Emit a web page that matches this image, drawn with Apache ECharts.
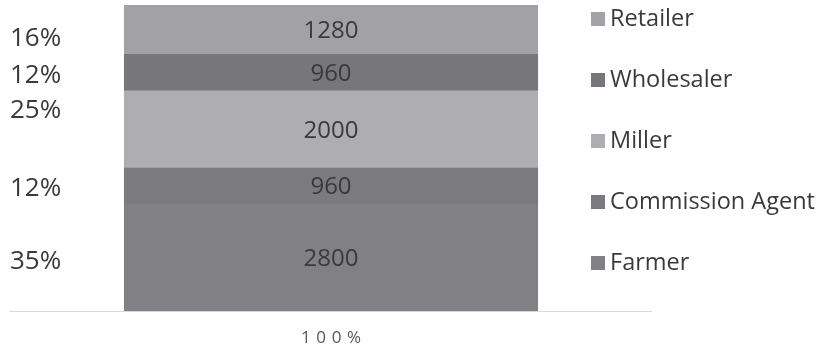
<!DOCTYPE html>
<html><head><meta charset="utf-8">
<script src="https://cdn.jsdelivr.net/npm/echarts@6/dist/echarts.min.js"></script>
<style>html,body{margin:0;padding:0;background:#fff}#c{width:824px;height:351px}</style>
</head><body><div id="c"></div>
<script>
const categories = ['100%'];
const seriesNames = ['Farmer', 'Commission Agent', 'Miller', 'Wholesaler', 'Retailer'];
const seriesValues = [2800, 960, 2000, 960, 1280];
const legendOrder = ['Retailer', 'Wholesaler', 'Miller', 'Commission Agent', 'Farmer'];

const colors = ['#818185', '#7b7b7f', '#aeaeb2', '#77777b', '#a2a2a6'];
const pctOffsets = [[0, 4], [0, 3], [0, -18], [0, 3], [0, 9]];
const total = seriesValues.reduce((a, b) => a + b, 0);
const FONT = 'Open Sans';

const series = [];
seriesNames.forEach((n, i) => {
  series.push({
    name: n, type: 'bar', stack: 'v', barWidth: '64.5%', barGap: '-100%',
    itemStyle: { color: colors[i] },
    data: [seriesValues[i]],
    label: { show: true, position: 'inside', offset: [0, 2], color: '#3a3a3a', fontSize: 24, fontFamily: FONT },
    emphasis: { disabled: true }, z: 2
  });
});
seriesNames.forEach((n, i) => {
  series.push({
    name: n + '_pct', type: 'bar', stack: 'p', barWidth: '64.5%', barGap: '-100%',
    itemStyle: { color: 'rgba(0,0,0,0)' },
    data: [seriesValues[i]],
    label: {
      show: true, position: [-114, '50%'], align: 'left', verticalAlign: 'middle',
      offset: pctOffsets[i],
      formatter: () => Math.round(seriesValues[i] / total * 100) + '%',
      color: '#3a3a3a', fontSize: 26, fontFamily: FONT
    },
    emphasis: { disabled: true }, z: 3
  });
});

const chart = echarts.init(document.getElementById('c'));
chart.setOption({
  animation: false,
  grid: { left: 10, right: 172, top: 5, bottom: 40 },
  xAxis: {
    type: 'category', data: categories,
    axisLine: { lineStyle: { color: '#d9d9d9' } },
    axisTick: { show: false },
    axisLabel: { color: '#595959', fontSize: 17, fontFamily: FONT, margin: 19,
      formatter: v => v.split('').join('\u2004') }
  },
  yAxis: { type: 'value', min: 0, max: total, show: false, splitLine: { show: false } },
  legend: {
    data: legendOrder, orient: 'vertical', left: 586, top: 2,
    itemWidth: 14, itemHeight: 14, itemGap: 37, itemTextGap: 7, icon: 'rect',
    textStyle: { color: '#3a3a3a', fontSize: 23.5, fontFamily: FONT, lineHeight: 22 },
    selectedMode: false
  },
  series: series
});
</script></body></html>
